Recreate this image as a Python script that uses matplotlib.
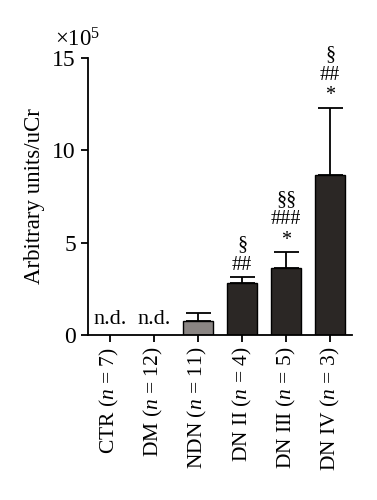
import numpy as np
import matplotlib
matplotlib.use("Agg")
from matplotlib import pyplot as plt

plt.rcParams['font.family'] = ['Liberation Serif', 'DejaVu Serif']
plt.rcParams['mathtext.fontset'] = 'custom'
plt.rcParams['mathtext.it'] = 'Liberation Serif:italic'
plt.rcParams['mathtext.rm'] = 'Liberation Serif'

groups = ['CTR', 'DM', 'NDN', 'DN II', 'DN III', 'DN IV']
n_sizes = [7, 12, 11, 4, 5, 3]
means = [0, 0, 0.77, 2.83, 3.64, 8.65]      # x10^5
errors = [0, 0, 0.40, 0.29, 0.83, 3.65]
marks = ['', '', '', '§\n##', '§§\n###\n*', '§\n##\n*']
nd = [True, True, False, False, False, False]
colors = ['#2b2725', '#2b2725', '#8a8583', '#2b2725', '#2b2725', '#2b2725']

fig = plt.figure(figsize=(3.77, 5), dpi=100)
ax = fig.add_axes([0.233, 0.33, 0.701, 0.554])

x = np.arange(len(groups))
for i in range(len(groups)):
    if nd[i]:
        ax.text(x[i], 0.3, 'n.d.', ha='center', va='bottom', fontsize=16)
        continue
    ax.bar(x[i], means[i], width=0.68, color=colors[i], edgecolor='black', linewidth=1.0, zorder=2)
    ax.errorbar(x[i], means[i], yerr=[[0], [errors[i]]], fmt='none', ecolor='black',
                elinewidth=1.3, capsize=9, capthick=1.3, zorder=1)
    if marks[i]:
        ax.text(x[i], means[i] + errors[i] + 0.15, marks[i], ha='center', va='bottom',
                fontsize=14.5, linespacing=1.1)

ax.set_xlim(-0.5, 5.5)
ax.set_ylim(0, 15)
ax.set_yticks([0, 5, 10, 15])
ax.set_xticks(x)
ax.set_xticklabels([f'{g} ($n$ = {n})' for g, n in zip(groups, n_sizes)], rotation=90, fontsize=15.5)
ax.tick_params(axis='y', labelsize=17, width=1.3, length=5)
ax.tick_params(axis='x', width=1.3, length=5)
ax.set_ylabel('Arbitrary units/uCr', fontsize=16.5, labelpad=5)
for s in ['top', 'right']:
    ax.spines[s].set_visible(False)
for s in ['left', 'bottom']:
    ax.spines[s].set_linewidth(1.3)
fig.text(0.146, 0.897, r'$\times$10$^5$', ha='left', va='bottom', fontsize=16.5)

fig.savefig('out.png', dpi=100)
